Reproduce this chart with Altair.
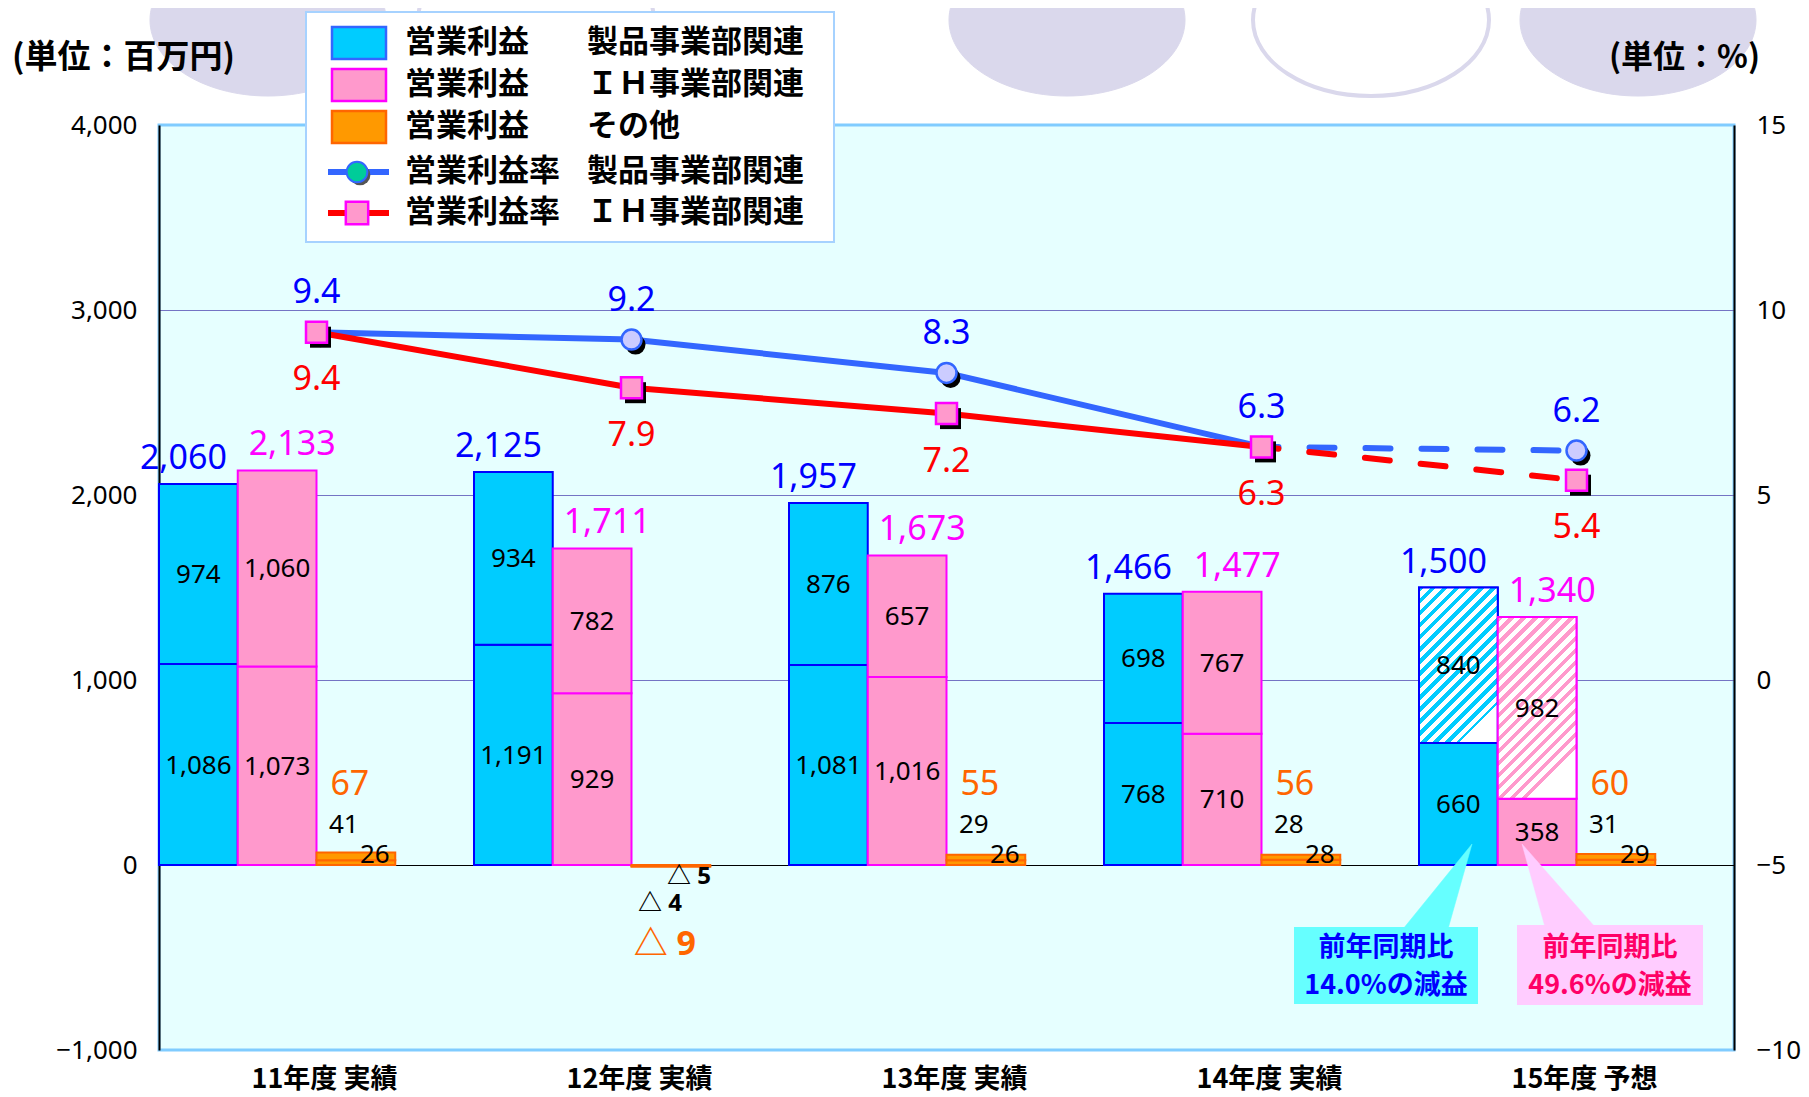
import math
import altair as alt
import pandas as pd

# ---------------- data ----------------
years = ["11年度 実績", "12年度 実績", "13年度 実績", "14年度 実績", "15年度 予想"]
seihin_lower = [1086, 1191, 1081, 768, 660]
seihin_upper = [974, 934, 876, 698, 840]
seihin_total = [2060, 2125, 1957, 1466, 1500]
ih_lower = [1073, 929, 1016, 710, 358]
ih_upper = [1060, 782, 657, 767, 982]
ih_total = [2133, 1711, 1673, 1477, 1340]
other_lower = [26, -5, 26, 28, 29]
other_upper = [41, -4, 29, 28, 31]
other_total = [67, -9, 55, 56, 60]
rate_seihin = [9.4, 9.2, 8.3, 6.3, 6.2]
rate_ih = [9.4, 7.9, 7.2, 6.3, 5.4]

legend_left = ["営業利益", "営業利益", "営業利益", "営業利益率", "営業利益率"]
legend_right = ["製品事業部関連", "ＩＨ事業部関連", "その他", "製品事業部関連", "ＩＨ事業部関連"]
unit_left = "(単位：百万円)"
unit_right = "(単位：%)"
callout_seihin = ["前年同期比", "14.0%の減益"]
callout_ih = ["前年同期比", "49.6%の減益"]

left_ticks = [-1000, 0, 1000, 2000, 3000, 4000]
right_ticks = [-10, -5, 0, 5, 10, 15]

# ---------------- tables ----------------
rows = []
for i, yr in enumerate(years):
    for s, lo, up in [("S", seihin_lower[i], seihin_upper[i]),
                      ("I", ih_lower[i], ih_upper[i]),
                      ("O", other_lower[i], other_upper[i])]:
        rows.append(dict(year=yr, idx=i, series=s, seg="lower", v=lo, y0=0, y1=lo))
        rows.append(dict(year=yr, idx=i, series=s, seg="upper", v=up, y0=lo, y1=lo + up))
seg = pd.DataFrame(rows)

trows = []
for i, yr in enumerate(years):
    trows.append(dict(year=yr, idx=i, series="S", v=seihin_total[i]))
    trows.append(dict(year=yr, idx=i, series="I", v=ih_total[i]))
    trows.append(dict(year=yr, idx=i, series="O", v=other_total[i]))
tot = pd.DataFrame(trows)

rrows = []
for i, yr in enumerate(years):
    rrows.append(dict(year=yr, idx=i, series="S", rate=rate_seihin[i]))
    rrows.append(dict(year=yr, idx=i, series="I", rate=rate_ih[i]))
rates = pd.DataFrame(rrows)

one = pd.DataFrame({"k": [0]})

# ---------------- style ----------------
W, H = 1575, 925
NUM = "'Noto Sans', 'Noto Sans CJK JP', sans-serif"
JP = "'Noto Sans CJK JP', sans-serif"
BLUE_FILL, BLUE_STROKE = "#00CCFF", "#0000FF"
PINK_FILL, PINK_STROKE = "#FF99CC", "#FF00FF"
OR_FILL, OR_STROKE = "#FF9900", "#FF6600"
LAV = "#DAD8EC"

xscale = alt.Scale(domain=years, paddingInner=0, paddingOuter=0)
offscale = alt.Scale(domain=["S", "I", "O", "_"], paddingInner=0, paddingOuter=0)
yL = alt.Scale(domain=[-1000, 4000], nice=False, zero=False)
yR = alt.Scale(domain=[-10, 15], nice=False, zero=False)

xaxis = alt.Axis(title=None, labelAngle=0, domain=False, ticks=False, grid=False,
                 labelFont=JP, labelFontWeight="bold", labelFontSize=27,
                 labelColor="black", labelPadding=16, labelOffset=8,
                 labelBaseline="top")
yaxisL = alt.Axis(title=None, orient="left", values=left_ticks, format=",.0f",
                  labelFont=NUM, labelFontSize=26, labelColor="black",
                  labelPadding=22, ticks=False, domainColor="black", domainWidth=2,
                  grid=True, gridWidth=1.2,
                  gridColor={"condition": {"test": "datum.value === 0", "value": "#000000"},
                             "value": "#7474C4"},
                  gridOpacity={"condition": {"test": "datum.value === 4000 || datum.value === -1000",
                                             "value": 0}, "value": 1})
yaxisR = alt.Axis(title=None, orient="right", values=right_ticks, format=".0f",
                  labelFont=NUM, labelFontSize=26, labelColor="black",
                  labelPadding=22, ticks=False, domainColor="black", domainWidth=2,
                  grid=False)


def X(bp=None):
    if bp is None:
        return alt.X("year:N", scale=xscale, axis=xaxis, sort=years, title=None)
    return alt.X("year:N", scale=xscale, axis=xaxis, sort=years, title=None, bandPosition=bp)


def XO():
    return alt.XOffset("series:N", scale=offscale)


def YL(f):
    return alt.Y(f, scale=yL, axis=yaxisL, title=None)


def YR(f):
    return alt.Y(f, scale=yR, axis=yaxisR, title=None)


def stripes(color, w, h, period=8.5, duty=0.45):
    D = h + w * w / h
    n = D / (period * math.sqrt(2))
    stops = []
    k = 0
    while k / n < 1:
        a = k / n
        b = min((k + duty) / n, 1)
        c = min((k + 1) / n, 1)
        stops += [{"offset": a, "color": color}, {"offset": b, "color": color},
                  {"offset": b, "color": "white"}, {"offset": c, "color": "white"}]
        k += 1
    return {"gradient": "linear", "x1": 0, "y1": 0, "x2": w / h, "y2": 1, "stops": stops}


bw = W / len(years) / 4
pxu = H / 5000

# ---------------- bar group (left axis) ----------------
layers_left = []

# decorative ellipses above the plot
for cx, filled in [(109, True), (377, False), (908, True), (1212, False), (1479, True)]:
    rx, ry = 118, 76
    path = f"M {-rx} 0 A {rx} {ry} 0 1 0 {rx} 0 A {rx} {ry} 0 1 0 {-rx} 0 Z"
    if filled:
        m = alt.Chart(one).mark_point(shape=path, filled=True, fill=LAV, stroke=LAV,
                                      strokeWidth=1, opacity=1)
    else:
        m = alt.Chart(one).mark_point(shape=path, filled=False, fill="white", stroke=LAV,
                                      strokeWidth=4, opacity=1)
    layers_left.append(m.encode(x=alt.value(cx), y=alt.value(-105), size=alt.value(4)))

bars = alt.Chart(seg).mark_bar().encode(
    x=X(), xOffset=XO(), y=YL("y0:Q"), y2="y1:Q",
    fill=alt.Fill("series:N", scale=alt.Scale(domain=["S", "I", "O"],
                                              range=[BLUE_FILL, PINK_FILL, OR_FILL]), legend=None),
    stroke=alt.Stroke("series:N", scale=alt.Scale(domain=["S", "I", "O"],
                                                  range=[BLUE_STROKE, PINK_STROKE, OR_STROKE]), legend=None),
    strokeWidth=alt.StrokeWidth("series:N", scale=alt.Scale(domain=["S", "I", "O"],
                                                            range=[2, 2, 1.2]), legend=None),
)
layers_left.append(bars)

hatchS = alt.Chart(seg).transform_filter(
    "datum.idx == 4 && datum.seg == 'upper' && datum.series == 'S'"
).mark_bar(fill=stripes(BLUE_FILL, bw, seihin_upper[4] * pxu), stroke=BLUE_STROKE,
           strokeWidth=2).encode(x=X(), xOffset=XO(), y=YL("y0:Q"), y2="y1:Q")
hatchI = alt.Chart(seg).transform_filter(
    "datum.idx == 4 && datum.seg == 'upper' && datum.series == 'I'"
).mark_bar(fill=stripes(PINK_FILL, bw, ih_upper[4] * pxu), stroke=PINK_STROKE,
           strokeWidth=2).encode(x=X(), xOffset=XO(), y=YL("y0:Q"), y2="y1:Q")
layers_left += [hatchS, hatchI]

seglab = alt.Chart(seg).transform_filter("datum.series != 'O'").transform_calculate(
    mid="(datum.y0 + datum.y1) / 2", lab="format(datum.v, ',')"
).mark_text(font=NUM, fontSize=26, color="black", baseline="middle", dy=1).encode(
    x=X(), xOffset=XO(), y=YL("mid:Q"), text="lab:N")
layers_left.append(seglab)


def olabel(df, filt, dx, dy, size, color, weight="normal"):
    return (alt.Chart(df).transform_filter(filt)
            .transform_calculate(zero="0",
                                 lab="datum.v < 0 ? '△ ' + abs(datum.v) : format(datum.v, ',')")
            .mark_text(font=NUM, fontSize=size, color=color, dx=dx, dy=dy, baseline="alphabetic",
                       fontWeight=weight)
            .encode(x=X(), xOffset=XO(), y=YL("zero:Q"), text="lab:N"))


layers_left += [
    olabel(seg, "datum.series == 'O' && datum.seg == 'lower' && datum.v >= 0", 19, -2, 26, "black"),
    olabel(seg, "datum.series == 'O' && datum.seg == 'upper' && datum.v >= 0", -12, -32, 26, "black"),
    olabel(seg, "datum.series == 'O' && datum.seg == 'lower' && datum.v < 0", 18, 19, 24, "black", "bold"),
    olabel(seg, "datum.series == 'O' && datum.seg == 'upper' && datum.v < 0", -11, 46, 24, "black", "bold"),
    olabel(tot, "datum.series == 'O' && datum.v >= 0", -6, -70, 34, OR_STROKE),
    olabel(tot, "datum.series == 'O' && datum.v < 0", -6, 90, 34, OR_STROKE, "bold"),
]

for s, dx, col in [("S", -15, "#0000FF"), ("I", 15, "#FF00FF")]:
    layers_left.append(
        alt.Chart(tot).transform_filter(f"datum.series == '{s}'").transform_calculate(
            lab="format(datum.v, ',')"
        ).mark_text(font=NUM, fontSize=34, color=col, dx=dx, dy=-15, baseline="alphabetic").encode(
            x=X(), xOffset=XO(), y=YL("v:Q"), text="lab:N"))

# callouts
for tipx, path, fill in [(1313, "M 0 0 L -69 85 L -24 85 Z", "#66FFFF"),
                         (1363, "M 0 0 L 23 83 L 73 83 Z", "#FFCCFF")]:
    layers_left.append(alt.Chart(one).mark_point(shape=path, filled=True, fill=fill, stroke=fill,
                                                 strokeWidth=0.5, opacity=1).encode(
        x=alt.value(tipx), y=alt.value(719), size=alt.value(4)))
for x0, x1, y0, y1, fill in [(1135, 1319, 802, 879, "#66FFFF"), (1358, 1544, 800, 880, "#FFCCFF")]:
    layers_left.append(alt.Chart(one).mark_rect(fill=fill).encode(
        x=alt.value(x0), x2=alt.value(x1), y=alt.value(y0), y2=alt.value(y1)))
for cx, lines, col in [(1227, callout_seihin, "#0000FF"), (1451, callout_ih, "#FF0066")]:
    for j, t in enumerate(lines):
        layers_left.append(alt.Chart(one).mark_text(
            text=t, font=JP, fontWeight="bold", fontSize=27, color=col,
            align="center", baseline="middle").encode(
            x=alt.value(cx), y=alt.value(823 + 38 * j)))

# legend
layers_left.append(alt.Chart(one).mark_rect(fill="white", stroke="#A6D2FF", strokeWidth=2).encode(
    x=alt.value(147), x2=alt.value(675), y=alt.value(-113), y2=alt.value(117)))
row_y = [-82, -40, 2, 47, 88]
for (fill, stroke), yy in zip([(BLUE_FILL, "#3366FF"), (PINK_FILL, PINK_STROKE), (OR_FILL, OR_STROKE)],
                              row_y[:3]):
    layers_left.append(alt.Chart(one).mark_rect(fill=fill, stroke=stroke, strokeWidth=2.5).encode(
        x=alt.value(173), x2=alt.value(227), y=alt.value(yy - 16), y2=alt.value(yy + 16)))
layers_left.append(alt.Chart(one).mark_rule(color="#3366FF", strokeWidth=6).encode(
    x=alt.value(169), x2=alt.value(230), y=alt.value(row_y[3])))
layers_left.append(alt.Chart(one).mark_point(shape="circle", filled=True, color="#555555",
                                             opacity=1).encode(
    x=alt.value(201), y=alt.value(row_y[3] + 3), size=alt.value(430)))
layers_left.append(alt.Chart(one).mark_point(shape="circle", filled=True, fill="#00CC99",
                                             stroke="#3366FF", strokeWidth=2, opacity=1).encode(
    x=alt.value(198), y=alt.value(row_y[3]), size=alt.value(430)))
layers_left.append(alt.Chart(one).mark_rule(color="#FF0000", strokeWidth=6).encode(
    x=alt.value(169), x2=alt.value(230), y=alt.value(row_y[4])))
layers_left.append(alt.Chart(one).mark_point(shape="square", filled=True, fill=PINK_FILL,
                                             stroke=PINK_STROKE, strokeWidth=2.5, opacity=1).encode(
    x=alt.value(198), y=alt.value(row_y[4]), size=alt.value(500)))
for t1, t2, yy in zip(legend_left, legend_right, row_y):
    layers_left.append(alt.Chart(one).mark_text(
        text=t1, font=JP, fontWeight="bold", fontSize=31, color="black",
        align="left", baseline="middle").encode(x=alt.value(246), y=alt.value(yy)))
    layers_left.append(alt.Chart(one).mark_text(
        text=t2, font=JP, fontWeight="bold", fontSize=31, color="black",
        align="left", baseline="middle").encode(x=alt.value(428), y=alt.value(yy)))

# unit labels
layers_left.append(alt.Chart(one).mark_text(
    text=unit_left, font=JP, fontWeight="bold", fontSize=33, color="black",
    align="left", baseline="middle").encode(x=alt.value(-147), y=alt.value(-67)))
layers_left.append(alt.Chart(one).mark_text(
    text=unit_right, font=JP, fontWeight="bold", fontSize=32, color="black",
    align="right", baseline="middle").encode(x=alt.value(1601), y=alt.value(-67)))

left_group = alt.layer(*layers_left)

# ---------------- rate group (right axis) ----------------
layers_right = []
for s, col in [("S", "#3366FF"), ("I", "#FF0000")]:
    layers_right.append(alt.Chart(rates).transform_filter(
        f"datum.series == '{s}' && datum.idx <= 3").mark_line(
        color=col, strokeWidth=6, strokeJoin="round").encode(x=X(0.5), y=YR("rate:Q")))
    layers_right.append(alt.Chart(rates).transform_filter(
        f"datum.series == '{s}' && datum.idx >= 3").mark_line(
        color=col, strokeWidth=6, strokeCap="round", strokeDash=[25, 31],
        strokeDashOffset=8).encode(x=X(0.5), y=YR("rate:Q")))

for s, shape, size, fill, stroke in [("S", "circle", 400, "#CCCCFF", "#3366FF"),
                                     ("I", "square", 441, PINK_FILL, PINK_STROKE)]:
    layers_right.append(alt.Chart(rates).transform_filter(f"datum.series == '{s}'").mark_point(
        shape=shape, filled=True, color="black", opacity=1, size=size, xOffset=4, yOffset=5
    ).encode(x=X(0.5), y=YR("rate:Q")))
    layers_right.append(alt.Chart(rates).transform_filter(f"datum.series == '{s}'").mark_point(
        shape=shape, filled=True, fill=fill, stroke=stroke, strokeWidth=2.5, opacity=1, size=size
    ).encode(x=X(0.5), y=YR("rate:Q")))

for s, col, dy in [("S", "#0000FF", -29), ("I", "#FF0000", 58)]:
    layers_right.append(alt.Chart(rates).transform_filter(f"datum.series == '{s}'").transform_calculate(
        lab="format(datum.rate, '.1f')").mark_text(
        font=NUM, fontSize=34, color=col, dy=dy, baseline="alphabetic").encode(
        x=X(0.5), y=YR("rate:Q"), text="lab:N"))

right_group = alt.layer(*layers_right)

chart = alt.layer(left_group, right_group).resolve_scale(y="independent").properties(
    width=W, height=H,
    autosize=alt.AutoSizeParams(type="none"),
    padding={"left": 151, "top": 117, "right": 67, "bottom": 46},
    background="white",
).configure_view(fill="#E6FFFF", stroke="#80CCFF", strokeWidth=3)

chart.save("out.html", embed_options={"renderer": "svg", "actions": False})
